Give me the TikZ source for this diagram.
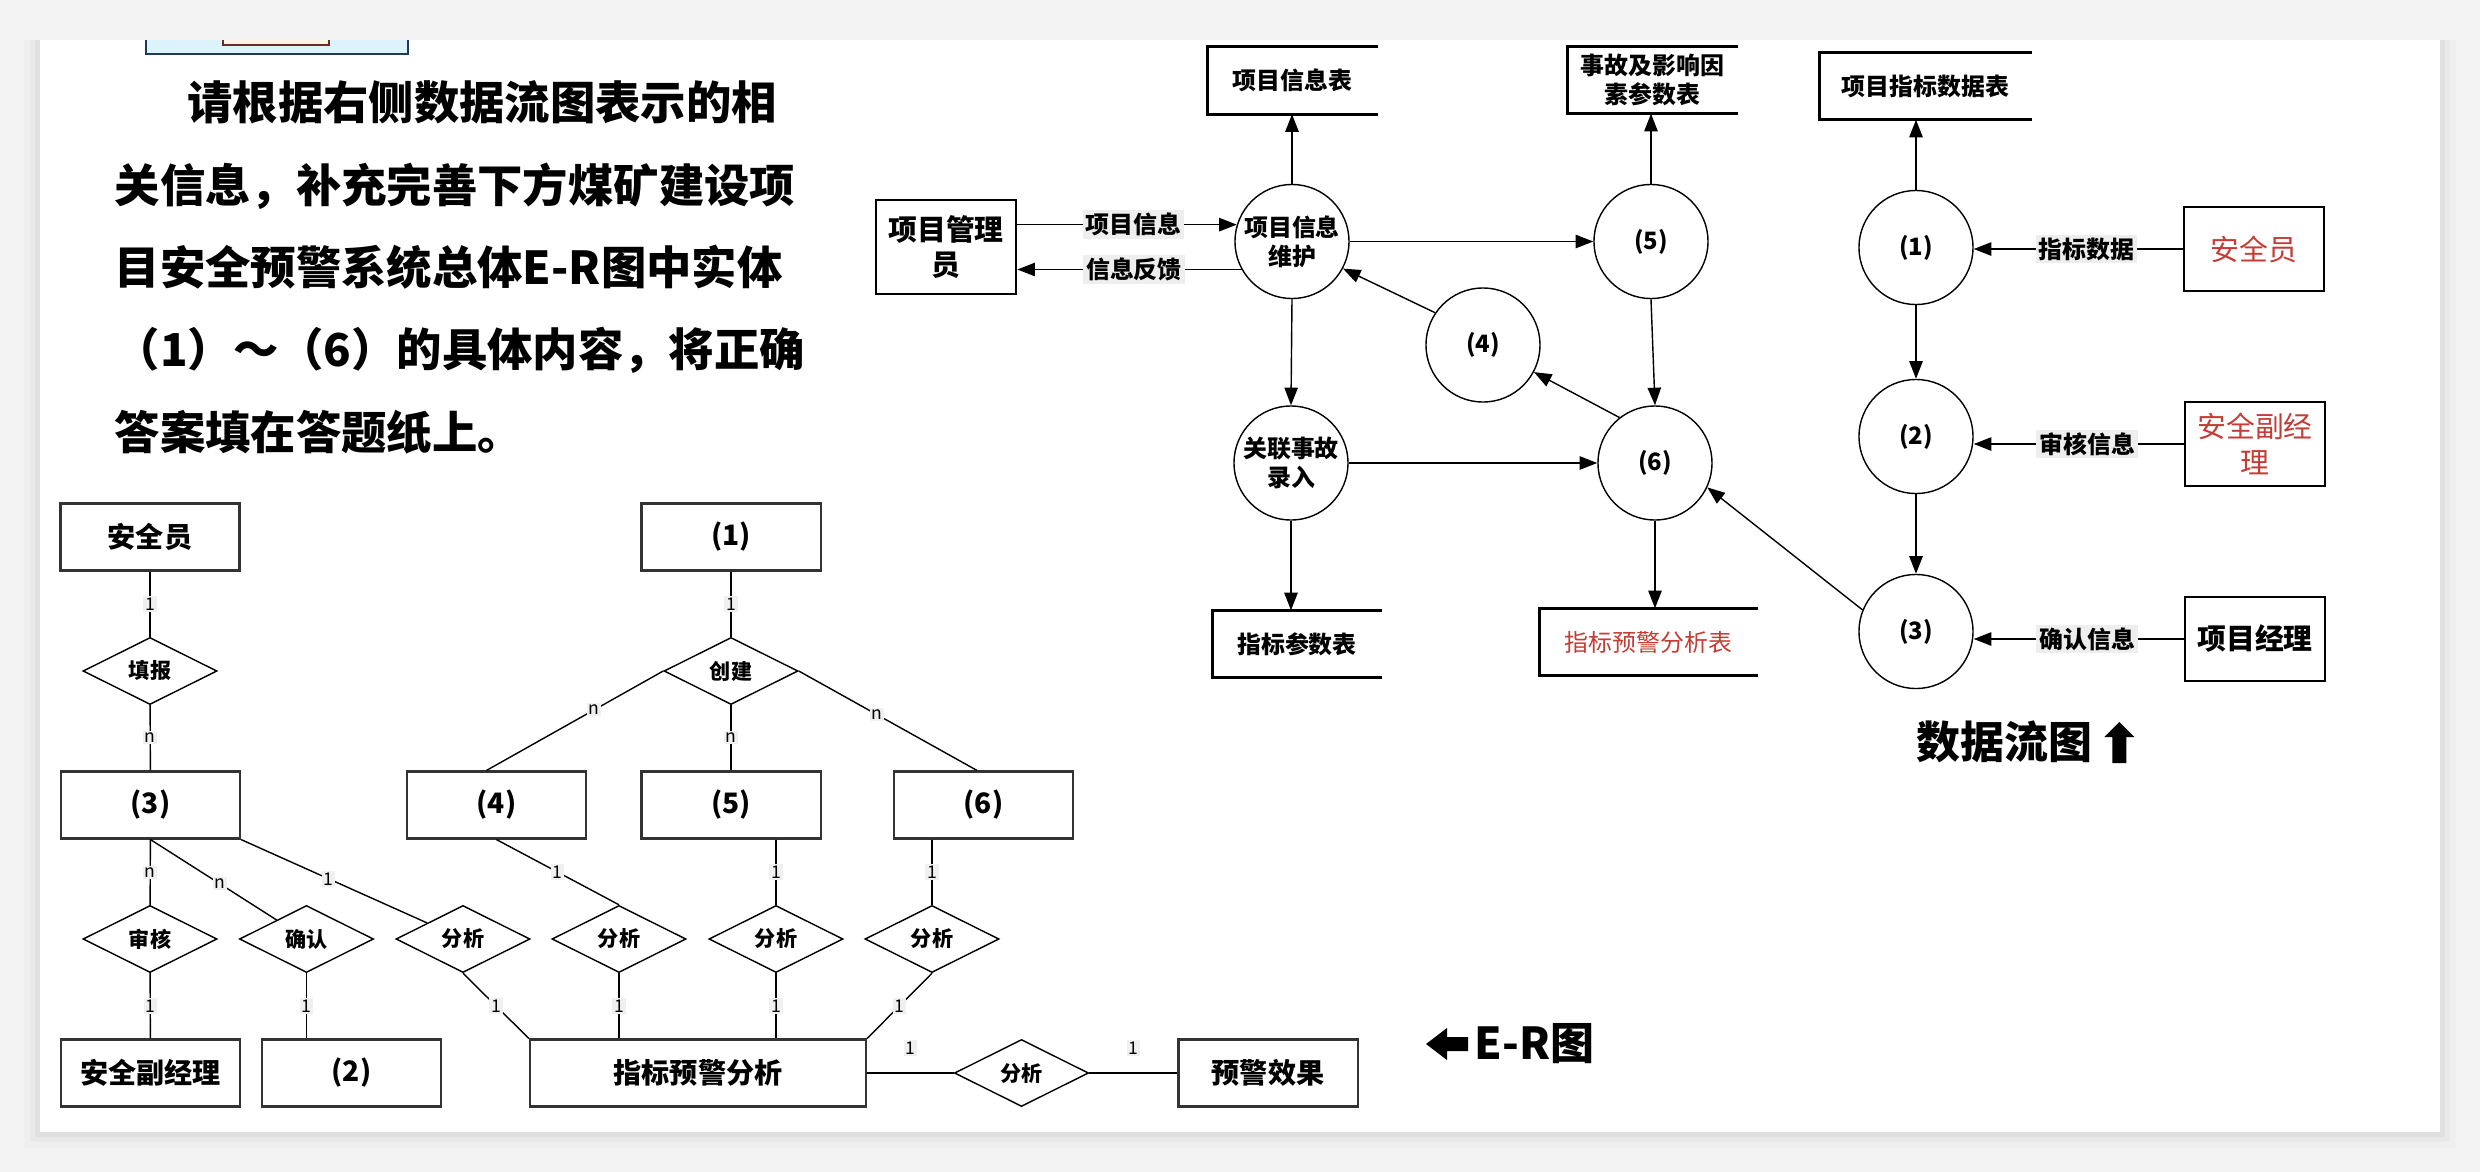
\documentclass[tikz,border=0pt]{standalone}
\usepackage{fontspec}
\setmainfont{Noto Sans CJK SC}
\usepackage{xcolor}
\usepackage{tikz}
\usetikzlibrary{arrows.meta,positioning,calc,shapes.geometric}
\definecolor{SheetGray}{HTML}{F3F3F3}
\definecolor{LabelFog}{HTML}{EEEEEE}
\definecolor{CardFog}{HTML}{F0F0F0}
\definecolor{AnswerRed}{HTML}{C43C35}
\definecolor{EntityInk}{HTML}{333333}
\definecolor{FrameNavy}{HTML}{1F3A5A}
\definecolor{FrameSky}{HTML}{DDF3FB}
\definecolor{FrameWine}{HTML}{6B2A2A}
\definecolor{FrameCream}{HTML}{FFF3E6}
\newcommand{\asktext}{\fontsize{12.9pt}{23.4pt}\selectfont\bfseries}
\newcommand{\captext}{\fontsize{12.5pt}{15pt}\selectfont\bfseries}
\newcommand{\dfdhead}{\fontsize{8.2pt}{10.1pt}\selectfont}
\newcommand{\dfdtext}{\fontsize{6.8pt}{8.2pt}\selectfont}
\newcommand{\erhead}{\fontsize{8pt}{9.6pt}\selectfont}
\newcommand{\ertext}{\fontsize{6pt}{7.2pt}\selectfont}
\newcommand{\cardtext}{\fontsize{5pt}{6pt}\selectfont}

\begin{document}
\begin{tikzpicture}[x=0.01cm,y=-0.01cm,>={Triangle[length=5pt,width=3.8pt]},
  dflow/.style={->,line width=0.4pt},
  dproc/.style={circle,draw,line width=0.4pt,minimum size=1.14cm,inner sep=0pt,
                align=center,font=\dfdtext\bfseries},
  dext/.style={draw,line width=0.75pt,minimum width=1.4cm,minimum height=0.84cm,
               inner sep=0pt,align=center,font=\dfdhead\bfseries},
  dstore/.style={minimum height=0.66cm,inner sep=0pt,align=center,font=\dfdtext\bfseries},
  dlbl/.style={fill=LabelFog,inner sep=0.8pt,font=\dfdtext\bfseries},
  ebox/.style={draw=EntityInk,line width=0.6pt,minimum width=1.79cm,minimum height=0.67cm,
               inner sep=0pt,font=\erhead\bfseries},
  erel/.style={diamond,draw,line width=0.4pt,minimum width=1.34cm,minimum height=0.67cm,
               inner sep=0pt,font=\ertext\bfseries},
  elink/.style={line width=0.4pt},
  ecard/.style={fill=CardFog,inner sep=0.5pt,font=\cardtext}]
  \useasboundingbox (0,0) rectangle (2480,1172);
  \fill[SheetGray] (0,0) rectangle (2480,1172);
  \foreach \d/\o in {16/0.015,10/0.025,5/0.035}
    \fill[black,opacity=\o] (40-\d,40) rectangle (2440+\d,1132+\d);
  \fill[white] (40,40) rectangle (2440,1132);

  \fill[FrameSky] (146,40) rectangle (408,54);
  \draw[FrameNavy,line width=0.7pt] (146,40) -- (146,54) -- (408,54) -- (408,40);
  \fill[FrameCream] (223,40) rectangle (329,45);
  \draw[FrameWine,line width=0.7pt] (223,40) -- (223,45) -- (329,45) -- (329,40);

  \node[anchor=base west,align=left,inner sep=0pt,font=\asktext] (ask) at (114,449)
    {\hspace*{1.6em}请根据右侧数据流图表示的相\\关信息，补充完善下方煤矿建设项\\
     目安全预警系统总体E-R图中实体\\（1）～（6）的具体内容，将正确\\答案填在答题纸上。};

  \node[dext,minimum height=0.94cm] (e1) at (946,247) {项目管理\\员};
  \node[dstore,minimum width=1.69cm] (t1) at (1292.5,80.5) {项目信息表};
  \node[dstore,minimum width=1.69cm] (t2) at (1652.5,80) {事故及影响因\\素参数表};
  \node[dstore,minimum width=2.11cm] (t3) at (1925.5,86) {项目指标数据表};
  \node[dproc] (pm) at (1292,241.5) {项目信息\\维护};
  \node[dproc] (p5) at (1651,241.5) {(5)};
  \node[dproc] (p4) at (1483,345) {(4)};
  \node[dproc] (pr) at (1291,463) {关联事故\\录入};
  \node[dproc] (p6) at (1655,463) {(6)};
  \node[dstore,minimum width=1.68cm] (t4) at (1297,644) {指标参数表};
  \node[dstore,minimum width=2.17cm,text=AnswerRed,font=\dfdtext] (t5) at (1648.5,642) {指标预警分析表};
  \node[dproc] (p1) at (1916,247.5) {(1)};
  \node[dproc] (p2) at (1916,436.5) {(2)};
  \node[dproc] (p3) at (1916,631.5) {(3)};
  \node[dext,text=AnswerRed,font=\dfdhead] (e2) at (2254,249) {安全员};
  \node[dext,text=AnswerRed,font=\dfdhead] (e3) at (2255,444) {安全副经\\理};
  \node[dext] (e4) at (2255,639) {项目经理};
  \foreach \s in {t1,t2,t3,t4,t5}
    \draw[line width=0.75pt] (\s.north east) -- (\s.north west) -- (\s.south west) -- (\s.south east);

  \draw[dflow] (e1.east |- pm.163) -- node[dlbl,pos=0.53] {项目信息} (pm.163);
  \draw[dflow] (pm.209) -- node[dlbl,pos=0.48] {信息反馈} (pm.209 -| e1.east);
  \draw[dflow] (pm.north) -- (pm.north |- t1.south);
  \draw[dflow] (pm.east) -- (p5.west);
  \draw[dflow] (p5.north) -- (p5.north |- t2.south);
  \draw[dflow] (p5.south) -- (p6.north);
  \draw[dflow] (p6.128) -- (p4.332);
  \draw[dflow] (p4.146) -- (pm.332);
  \draw[dflow] (pm.south) -- (pr.north);
  \draw[dflow] (pr.east) -- (p6.west);
  \draw[dflow] (pr.south) -- (pr.south |- t4.north);
  \draw[dflow] (p6.south) -- (p6.south |- t5.north);
  \draw[dflow] (p3.158) -- (p6.335);
  \draw[dflow] (p1.north) -- (p1.north |- t3.south);
  \draw[dflow] (e2.west) -- node[dlbl,pos=0.46] {指标数据} (e2.west -| p1.east);
  \draw[dflow] (p1.south) -- (p2.north);
  \draw[dflow] (e3.west) -- node[dlbl,pos=0.46] {审核信息} (e3.west -| p2.east);
  \draw[dflow] (p2.south) -- (p3.north);
  \draw[dflow] (e4.west) -- node[dlbl,pos=0.46] {确认信息} (e4.west -| p3.east);

  \node[anchor=west,inner sep=0pt,font=\captext] (dfdcap) at (1916,742) {数据流图};
  \fill ([xshift=0.26cm]dfdcap.east) ++(0,-20) -- ++(15,15) -- ++(-8,0) -- ++(0,26)
    -- ++(-14,0) -- ++(0,-26) -- ++(-8,0) -- cycle;

  \node[ebox] (s1) at (150,537) {安全员};
  \node[ebox] (s0) at (731,537) {(1)};
  \node[erel] (r1) at (150,671) {填报};
  \node[erel] (r0) at (731,671) {创建};
  \node[ebox] (s3) at (150.5,805) {(3)};
  \node[ebox] (s4) at (496.5,805) {(4)};
  \node[ebox] (s5) at (731,805) {(5)};
  \node[ebox] (s6) at (983.5,805) {(6)};
  \node[erel] (r2) at (150,939) {审核};
  \node[erel] (r3) at (306.5,939) {确认};
  \node[erel] (r4) at (463,939) {分析};
  \node[erel] (r5) at (619,939) {分析};
  \node[erel] (r6) at (776,939) {分析};
  \node[erel] (r7) at (932,939) {分析};
  \node[ebox] (s7) at (150.5,1073) {安全副经理};
  \node[ebox] (s2) at (351.5,1073) {(2)};
  \node[ebox,minimum width=3.36cm] (s8) at (698,1073) {指标预警分析};
  \node[erel] (r8) at (1021.5,1073) {分析};
  \node[ebox] (s9) at (1268,1073) {预警效果};

  \draw[elink] (s1) -- node[ecard] {1} (r1);
  \draw[elink] (r1) -- node[ecard] {n} (s3);
  \draw[elink] (s0) -- node[ecard] {1} (r0);
  \draw[elink] (r0.west) -- node[ecard,pos=0.39] {n} ([xshift=-0.1cm]s4.north);
  \draw[elink] (r0) -- node[ecard] {n} (s5);
  \draw[elink] (r0.east) -- node[ecard,pos=0.44] {n} ([xshift=-0.065cm]s6.north);
  \draw[elink] (s3) -- node[ecard] {n} (r2);
  \draw[elink] (s3.south) -- node[ecard,pos=0.55] {n} (r3);
  \draw[elink] (s3.south east) -- node[ecard,pos=0.47] {1} (r4);
  \draw[elink] (s4.south) -- node[ecard] {1} (r5.north);
  \draw[elink] (r6.north |- s5.south) -- node[ecard] {1} (r6.north);
  \draw[elink] (r7.north |- s6.south) -- node[ecard] {1} (r7.north);
  \draw[elink] (r2) -- node[ecard] {1} (s7);
  \draw[elink] (r3.south) -- node[ecard] {1} (r3.south |- s2.north);
  \draw[elink] (r4.south) -- node[ecard] {1} (s8.north west);
  \draw[elink] (r5.south) -- node[ecard] {1} (r5.south |- s8.north);
  \draw[elink] (r6.south) -- node[ecard] {1} (r6.south |- s8.north);
  \draw[elink] (r7.south) -- node[ecard] {1} (s8.north east);
  \draw[elink] (s8) -- node[ecard,above=4.5pt] {1} (r8);
  \draw[elink] (r8) -- node[ecard,above=4.5pt] {1} (s9);

  \node[anchor=west,inner sep=0pt,font=\captext] (ercap) at (1474,1044) {E-R图};
  \fill ([xshift=-0.06cm]ercap.west) -- ++(0,-7) -- ++(-21,0) -- ++(0,-9) -- ++(-21,16)
    -- ++(21,16) -- ++(0,-9) -- ++(21,0) -- cycle;
\end{tikzpicture}
\end{document}
